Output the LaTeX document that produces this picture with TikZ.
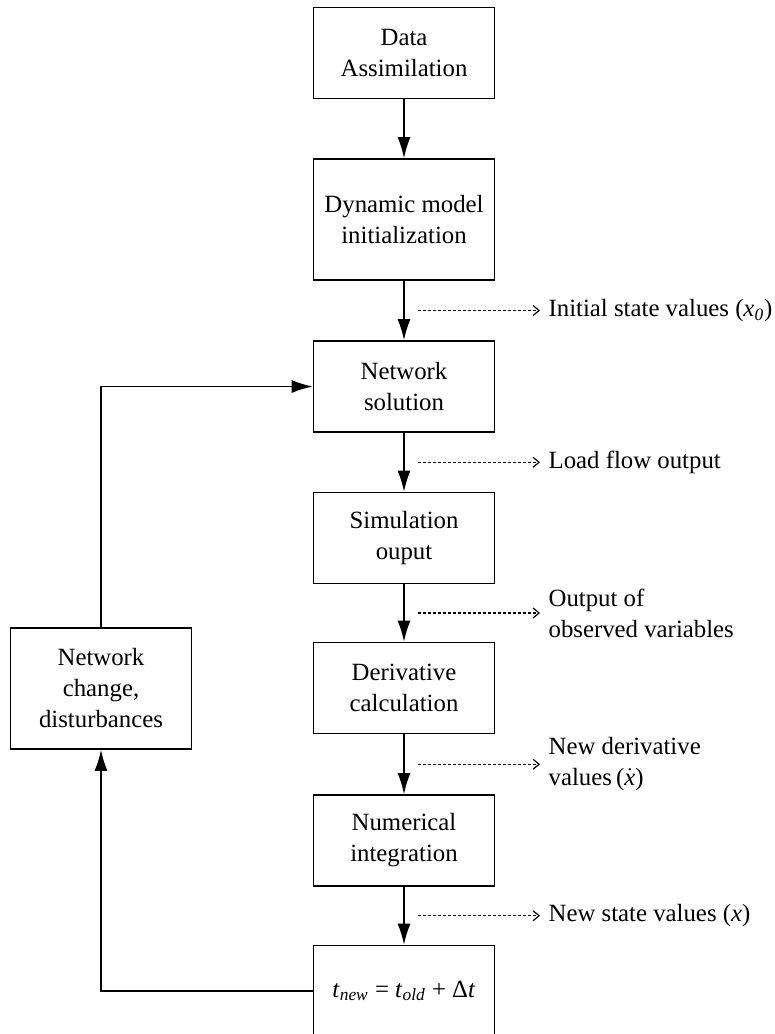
\documentclass[tikz,border=0pt]{standalone}
\usepackage{fontspec}
\setmainfont{Liberation Serif}
\usetikzlibrary{calc,arrows.meta}

\begin{document}
\begin{tikzpicture}[x=0.5pt,y=-0.5pt,font=\fontsize{12.4pt}{15.5pt}\selectfont]
    \tikzstyle{blk}=[draw,line width=0.8pt,minimum width=90.5pt,minimum height=45.5pt,align=center,inner sep=2pt]
    \tikzstyle{tall}=[minimum height=60.5pt]
    \tikzstyle{flow}=[line width=0.8pt,-{Latex[length=10.5pt,width=6.5pt]}]
    \tikzstyle{info}=[line width=0.6pt,dash pattern=on 1.5pt off 1pt,-{Straight Barb[length=3pt,width=5pt]}]
    \tikzstyle{lbl}=[anchor=west,align=left,inner sep=4pt]

    \useasboundingbox (0,0) rectangle (775,1034);

    \node[blk]      (assim) at (404,  53)   {Data\\Assimilation};
    \node[blk,tall] (init)  at (404, 219.5) {Dynamic model\\initialization};
    \node[blk]      (net)   at (404, 386.5) {Network\\solution};
    \node[blk]      (sim)   at (404, 538)   {Simulation\\ouput};
    \node[blk]      (deriv) at (404, 688)   {Derivative\\calculation};
    \node[blk]      (integ) at (404, 840.5) {Numerical\\integration};
    \node[blk]      (tstep) at (404, 991)
        {\textit{t}\textsubscript{\textit{new}} = \textit{t}\textsubscript{\textit{old}} + Δ\textit{t}};

    \node[blk,tall] (chg)   at (101, 688.5) {Network\\change,\\disturbances};

    \draw[flow] (assim) -- (init);
    \draw[flow] (init) -- (net);
    \draw[flow] (net) -- (sim);
    \draw[flow] (sim) -- (deriv);
    \draw[flow] (deriv) -- (integ);
    \draw[flow] (integ) -- (tstep);

    % feedback loop
    \draw[flow] (tstep.west) -| (chg.south);
    \draw[flow] (chg.north) |- (net.west);

    % outputs on the right
    \foreach \a/\b/\n in {init/net/1,net/sim/2,sim/deriv/3,deriv/integ/4,integ/tstep/5}
        \coordinate (m\n) at ($(\a.south)!0.5!(\b.north)$);

    \draw[info] ($(m1)+(14,0)$) -- ($(m1)+(136,0)$) node[lbl] (out1) {Initial state values (\textit{x}\textsubscript{\textit{0}})};
    \draw[info] ($(m2)+(14,0)$) -- ($(m2)+(136,0)$) node[lbl] (out2) {Load flow output};
    \draw[info] ($(m3)+(14,0)$) -- ($(m3)+(136,0)$) node[lbl] (out3) {Output of\\observed variables};
    \draw[info] ($(m4)+(14,0)$) -- ($(m4)+(136,0)$) node[lbl] (out4) {New derivative\\values\,($\dot{\mbox{\itshape x}}$)};
    \draw[info] ($(m5)+(14,0)$) -- ($(m5)+(136,0)$) node[lbl] (out5) {New state values (\textit{x})};
\end{tikzpicture}
\end{document}
